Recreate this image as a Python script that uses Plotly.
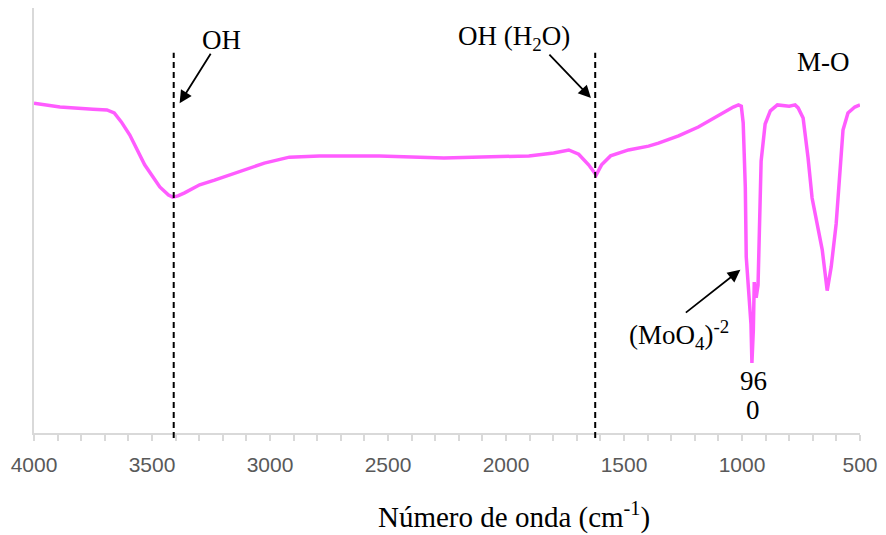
import plotly.graph_objects as go

# Wavenumber (cm-1) and transmittance (arbitrary units)
wavenumber = [4000, 3890, 3750, 3691, 3660, 3630, 3594, 3531, 3467, 3430, 3412, 3390, 3362,
              3298, 3235, 3129, 3024, 2918, 2791, 2537, 2263, 1903, 1798, 1734, 1692, 1650,
              1618, 1595, 1557, 1481, 1396, 1354, 1269, 1185, 1100, 1037, 1015, 1003, 995,
              986, 982, 970, 962, 958, 952, 948, 940, 932, 927, 919, 902, 880, 850, 800,
              775, 762, 741, 720, 703, 682, 660, 639, 622, 601, 585, 572, 551, 522, 500]
transmittance = [77.6, 76.7, 76.2, 76.0, 75.3, 73.2, 70.1, 63.1, 57.9, 56.0, 55.5, 55.8, 56.5,
                 58.4, 59.5, 61.4, 63.5, 64.9, 65.2, 65.2, 64.7, 65.2, 65.9, 66.6, 65.6, 63.1,
                 60.7, 63.1, 65.2, 66.6, 67.5, 68.2, 69.9, 72.0, 74.8, 76.7, 77.2, 76.9, 73.0,
                 57.9, 41.4, 31.8, 25.6, 16.5, 24.2, 35.5, 31.8, 34.8, 48.2, 64.0, 72.7, 75.8,
                 77.2, 76.9, 77.2, 76.5, 74.1, 64.7, 55.3, 49.2, 43.1, 33.5, 39.1, 49.2, 61.2,
                 71.3, 75.3, 76.7, 77.2]

band_lines = [3408, 1622]
tick_vals = [4000, 3500, 3000, 2500, 2000, 1500, 1000, 500]
tick_text = ["4000", "3500", "3000", "2500", "2000", "1500", "1000", "500"]

fig = go.Figure()
fig.add_trace(go.Scatter(
    x=wavenumber, y=transmittance, mode="lines",
    line=dict(color="#FF5CFF", width=3.5, shape="linear"),
    showlegend=False, hoverinfo="skip"))

serif = "Liberation Serif, Times New Roman, serif"

for b in band_lines:
    fig.add_shape(type="line", xref="x", yref="paper", x0=b, x1=b, y0=-0.012, y1=0.895,
                  line=dict(color="black", width=2, dash="6px,4px"))

arrows = [
    (3383, 77.6, 32, -51),
    (1640, 78.8, -43, -45),
    (1007, 38.4, -56, 44),
]
for x, y, ax, ay in arrows:
    fig.add_annotation(x=x, y=y, xref="x", yref="y", ax=ax, ay=ay, axref="pixel", ayref="pixel",
                       text="", showarrow=True, arrowhead=2, arrowsize=1.4, arrowwidth=1.8,
                       arrowcolor="black")

labels = [
    ("OH", 3205, 92.5),
    ("OH (H<sub>2</sub>O)", 1967, 92.9),
    ("M-O", 656, 87.3),
    ("(MoO<sub>4</sub>)<sup>-2</sup>", 1269, 23.1),
    ("96", 952, 12.2),
    ("0", 952, 5.4),
]
for t, x, y in labels:
    fig.add_annotation(x=x, y=y, xref="x", yref="y", text=t, showarrow=False,
                       font=dict(family=serif, size=27, color="black"))

fig.add_annotation(x=0.581, y=-0.195, xref="paper", yref="paper", yanchor="middle",
                   text="Número de onda (cm<sup>-1</sup>)", showarrow=False,
                   font=dict(family=serif, size=29, color="black"))

fig.update_xaxes(range=[4000, 500], tickvals=tick_vals, ticktext=tick_text,
                 showline=True, linecolor="#D9D9D9", linewidth=1.5,
                 ticks="outside", ticklen=6, tickcolor="#D9D9D9", tickwidth=1.5,
                 ticklabelstandoff=6,
                 minor=dict(dtick=100, tick0=0, ticks="outside", ticklen=6,
                            tickcolor="#D9D9D9", tickwidth=1.5),
                 showgrid=False, zeroline=False,
                 tickfont=dict(family="Liberation Sans, Arial, sans-serif", size=21, color="#595959"))
fig.update_yaxes(range=[0, 100], showline=True, linecolor="#D9D9D9", linewidth=1.5,
                 showticklabels=False, ticks="", showgrid=False, zeroline=False)

fig.update_layout(width=886, height=535, margin=dict(l=34, r=24, t=8, b=102),
                  paper_bgcolor="white", plot_bgcolor="white")

fig.write_html("out.html")
